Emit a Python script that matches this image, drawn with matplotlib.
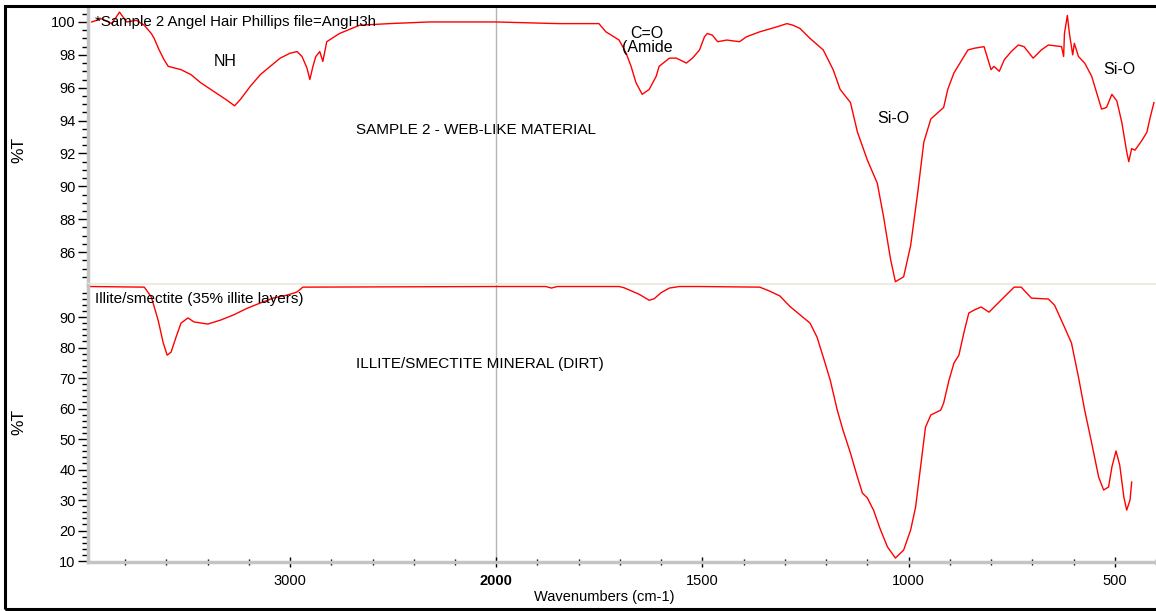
import matplotlib.pyplot as plt
import numpy as np
from matplotlib.patches import Rectangle
from matplotlib.ticker import FixedLocator

# sample 2 - web-like material (wavenumber, %T)
web_wn = [3962, 3914, 3865, 3827, 3793, 3745, 3707, 3673, 3659, 3635, 3611, 3591,
          3529, 3481, 3433, 3361, 3313, 3269, 3240, 3192, 3144, 3096, 3048, 3000,
          2966, 2942, 2918, 2904, 2889, 2875, 2856, 2841, 2822, 2760, 2663, 2519,
          2327, 2000, 1849, 1751, 1734, 1702, 1685, 1673, 1661, 1646, 1629, 1612,
          1605, 1580, 1563, 1539, 1524, 1507, 1495, 1488, 1476, 1463, 1441, 1410,
          1393, 1361, 1320, 1295, 1280, 1263, 1239, 1207, 1183, 1166, 1141, 1124,
          1100, 1076, 1061, 1044, 1032, 1012, 995, 978, 963, 946, 915, 905, 890,
          856, 841, 817, 800, 793, 780, 768, 751, 734, 720, 698, 678, 661, 629,
          624, 622, 615, 610, 602, 598, 588, 573, 556, 544, 532, 520, 507, 495,
          483, 471, 466, 459, 451, 434, 422, 415, 405]
web_t = [100.0, 100.2, 99.9, 100.6, 100.0, 100.1, 99.8, 99.3, 99.0, 98.3, 97.7, 97.3,
         97.1, 96.8, 96.3, 95.7, 95.3, 94.9, 95.3, 96.1, 96.8, 97.3, 97.8, 98.1,
         98.2, 97.9, 97.2, 96.5, 97.3, 97.9, 98.2, 97.6, 98.8, 99.3, 99.8, 99.9,
         100.0, 100.0, 99.9, 99.9, 99.4, 98.9, 98.1, 97.3, 96.3, 95.6, 95.9, 96.7,
         97.3, 97.8, 97.8, 97.5, 97.8, 98.3, 99.1, 99.3, 99.2, 98.8, 98.9, 98.8,
         99.1, 99.4, 99.7, 99.9, 99.8, 99.6, 99.0, 98.3, 97.1, 95.9, 95.1, 93.3,
         91.6, 90.2, 88.2, 85.6, 84.2, 84.5, 86.4, 89.6, 92.7, 94.1, 94.8, 95.9, 96.9,
         98.3, 98.4, 98.5, 97.1, 97.3, 97.0, 97.7, 98.2, 98.6, 98.5, 97.8, 98.3, 98.6, 98.5,
         97.9, 99.3, 100.4, 99.3, 98.0, 98.7, 97.9, 97.5, 96.7, 95.7, 94.7, 94.8, 95.6, 95.2,
         93.9, 92.1, 91.5, 92.3, 92.2, 92.8, 93.3, 94.1, 95.1]

# illite/smectite mineral (wavenumber, %T)
dirt_wn = [3971, 3707, 3673, 3640, 3615, 3596, 3577, 3553, 3529, 3495, 3466, 3399,
           3337, 3274, 3207, 3144, 3082, 3014, 2966, 2938, 2000, 1880, 1866, 1852,
           1702, 1690, 1654, 1629, 1617, 1600, 1580, 1556, 1507, 1361, 1337, 1312,
           1288, 1263, 1239, 1222, 1207, 1190, 1173, 1159, 1141, 1124, 1112, 1100,
           1085, 1068, 1051, 1032, 1012, 995, 983, 971, 959, 946, 922, 915, 902,
           890, 878, 866, 854, 841, 824, 805, 788, 768, 744, 727, 702, 661, 646,
           622, 605, 588, 573, 556, 539, 527, 515, 507, 497, 488, 478, 471, 463, 459]
dirt_t = [100.0, 99.8, 96.6, 89.0, 81.5, 77.5, 78.5, 83.4, 88.0, 89.7, 88.4, 87.7,
          89.0, 90.7, 92.9, 94.6, 96.2, 97.2, 98.2, 99.8, 100.0, 100.0, 99.5, 100.0,
          100.0, 99.6, 97.5, 95.5, 96.0, 98.0, 99.5, 100.0, 100.0, 99.8, 98.5, 96.9,
          93.5, 90.7, 88.0, 83.4, 76.9, 69.3, 59.5, 52.9, 45.4, 37.5, 32.3, 30.7,
          26.7, 20.2, 14.6, 11.0, 13.6, 20.2, 27.7, 40.8, 53.9, 57.9, 59.5, 61.8, 69.3,
          74.9, 77.5, 84.8, 91.3, 92.3, 93.3, 91.6, 93.9, 96.6, 99.8, 99.8, 96.2, 95.9, 93.9,
          86.7, 81.5, 70.3, 59.5, 48.7, 37.5, 33.3, 34.3, 40.8, 46.1, 41.5, 31.0, 26.7, 30.0, 35.9]

x_major = [3000, 2000, 1500, 1000, 500]
x_minor = [3800, 3600, 3400, 3200, 2800, 2600, 2400, 2200, 1900, 1800, 1700, 1600,
           1400, 1300, 1200, 1100, 900, 800, 700, 600, 400]


def forward(w):
    w = np.asarray(w, dtype=float)
    return np.where(w > 2000, 2000 + (w - 2000) / 2, w)


def inverse(t):
    t = np.asarray(t, dtype=float)
    return np.where(t > 2000, 2000 + (t - 2000) * 2, t)


plt.rcParams['font.family'] = ['Liberation Sans', 'DejaVu Sans']
red = '#ff0000'
grid_gray = '#b4b4b4'
axis_gray = '#c4c4c4'

fig = plt.figure(figsize=(11.56, 6.11), dpi=100)
ax1 = fig.add_axes([88 / 1156, 1 - 285 / 611, 1 - 88 / 1156, 277 / 611])
ax2 = fig.add_axes([88 / 1156, 1 - 562 / 611, 1 - 88 / 1156, 277 / 611])

for ax in (ax1, ax2):
    ax.set_xscale('function', functions=(forward, inverse))
    ax.set_xlim(3980, 400)
    ax.axvline(2000, color=grid_gray, lw=1, zorder=0)
    for s in ('top', 'right'):
        ax.spines[s].set_visible(False)
    ax.spines['left'].set_color(axis_gray)
    ax.spines['left'].set_linewidth(2.5)
    ax.tick_params(axis='y', which='major', direction='out', length=7, width=1,
                   color='black', labelsize=10.5, pad=2)
    ax.tick_params(axis='y', which='minor', direction='out', length=4, width=1,
                   color='black')

ax1.plot(web_wn, web_t, color=red, lw=1)
ax1.set_ylim(84, 100.85)
ax1.yaxis.set_major_locator(FixedLocator(np.arange(86, 101, 2)))
ax1.yaxis.set_minor_locator(FixedLocator(np.arange(84.5, 101, 0.5)))
ax1.spines['bottom'].set_color('#eeebe0')
ax1.spines['bottom'].set_linewidth(3)
ax1.tick_params(axis='x', which='both', bottom=False, labelbottom=False)

ax2.plot(dirt_wn, dirt_t, color=red, lw=1)
ax2.set_ylim(9.7, 100.5)
ax2.yaxis.set_major_locator(FixedLocator(np.arange(10, 91, 10)))
ax2.yaxis.set_minor_locator(FixedLocator(np.arange(12, 100, 2)))
ax2.spines['bottom'].set_color(axis_gray)
ax2.spines['bottom'].set_linewidth(2.5)
ax2.xaxis.set_major_locator(FixedLocator(x_major))
ax2.xaxis.set_minor_locator(FixedLocator(x_minor))
ax2.set_xticklabels([str(v) for v in x_major])
ax2.tick_params(axis='x', which='major', direction='inout', length=7, width=1,
                color='black', labelsize=10.5, pad=5)
ax2.tick_params(axis='x', which='minor', direction='inout', length=5, width=1,
                color='black')
for lbl in ax2.get_xticklabels():
    if lbl.get_text() == '2000':
        lbl.set_fontweight('bold')

# annotations
ax1.text(3947, 100.0, '*Sample 2 Angel Hair Phillips file=AngH3h', fontsize=10.8,
         va='center', ha='left')
ax1.text(3317, 97.6, 'NH', fontsize=11.5, ha='center', va='center')
ax1.text(1634, 99.3, 'C=O', fontsize=11.5, ha='center', va='center')
ax1.text(1634, 98.45, '(Amide', fontsize=11.5, ha='center', va='center')
ax1.text(2096, 93.4, 'SAMPLE 2 - WEB-LIKE MATERIAL', fontsize=11,
         ha='center', va='center')
ax1.text(1037, 94.1, 'Si-O', fontsize=11.5, ha='center', va='center')
ax1.text(490, 97.1, 'Si-O', fontsize=11.5, ha='center', va='center')

ax2.text(3947, 95.9, 'Illite/smectite (35% illite layers)', fontsize=11,
         ha='left', va='center')
ax2.text(2077, 74.6, 'ILLITE/SMECTITE MINERAL (DIRT)', fontsize=11,
         ha='center', va='center')

fig.text(19 / 1156, 1 - 150 / 611, '%T', rotation=90, fontsize=12.5,
         ha='center', va='center')
fig.text(19 / 1156, 1 - 422 / 611, '%T', rotation=90, fontsize=12.5,
         ha='center', va='center')
fig.text(604 / 1156, 1 - 597 / 611, 'Wavenumbers (cm-1)', fontsize=10.5,
         ha='center', va='center')

# outer frame
fig.patches.append(Rectangle((5 / 1156, 2 / 611), 1.0, 1 - 8 / 611,
                             transform=fig.transFigure, fill=False,
                             edgecolor='black', lw=2.2))

fig.savefig('out.png', dpi=100)
